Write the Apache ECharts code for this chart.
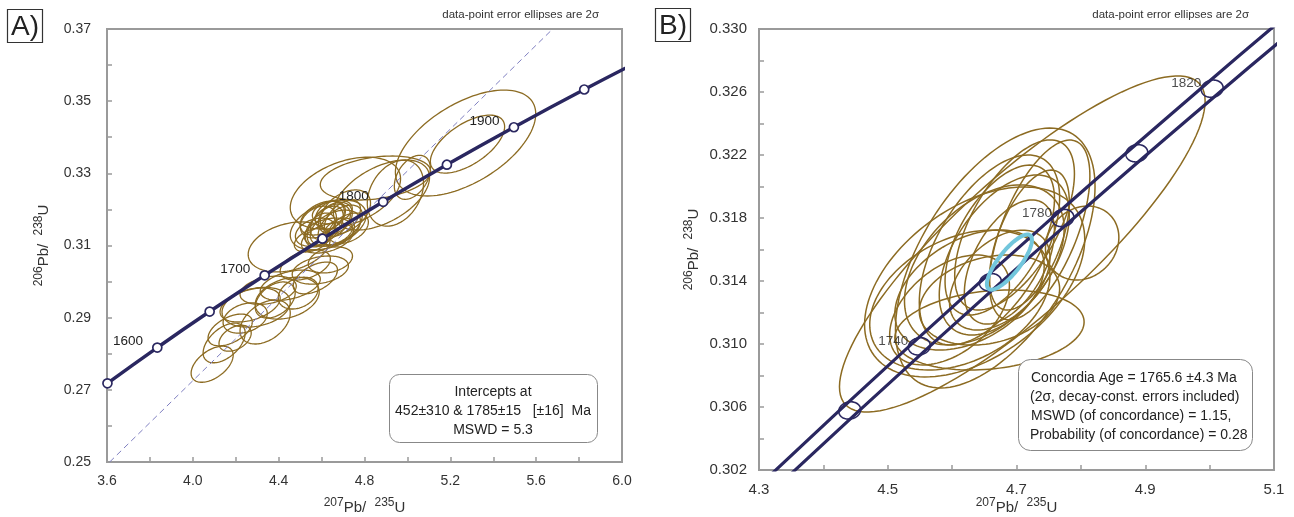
<!DOCTYPE html>
<html><head><meta charset="utf-8">
<script src="https://cdn.jsdelivr.net/npm/echarts@6/dist/echarts.min.js"></script>
<style>html,body{margin:0;padding:0;background:#fff}#c{width:1294px;height:517px}</style>
</head><body><div id="c"></div>
<script>
// ---------- Panel A data ----------
const aConcordiaAges = [1550, 1600, 1650, 1700, 1750, 1800, 1850, 1900, 1950];
const aConcordiaX = [3.6021, 3.8344, 4.0784, 4.3348, 4.6040, 4.8869, 5.1840, 5.4962, 5.8240];
const aConcordiaY = [0.27180, 0.28171, 0.29169, 0.30174, 0.31188, 0.32210, 0.33239, 0.34277, 0.35323];
const aCurveX = [3.3811, 3.6021, 3.8344, 4.0784, 4.3348, 4.6040, 4.8869, 5.1840, 5.4962, 5.8240, 6.1687];
const aCurveY = [0.26198, 0.27180, 0.28171, 0.29169, 0.30174, 0.31188, 0.32210, 0.33239, 0.34277, 0.35323, 0.36375];
const aLabelAges = [1600, 1700, 1800, 1900];
const aDiscordiaX = [3.6125, 5.677];
const aDiscordiaY = [0.25, 0.37];
// ellipses: [x, y, 2s_x, 2s_y, rho]
const aEllipses = [
  [5.271, 0.3384, 0.327, 0.01468, 0.55],
  [5.280, 0.3381, 0.173, 0.00803, 0.60],
  [5.023, 0.3289, 0.084, 0.0061, 0.40],
  [4.851, 0.3287, 0.257, 0.0061, 0.30],
  [4.879, 0.3240, 0.224, 0.0097, 0.50],
  [4.711, 0.3245, 0.257, 0.00997, 0.40],
  [4.944, 0.3245, 0.131, 0.00914, 0.30],
  [4.449, 0.3096, 0.191, 0.00693, 0.30],
  [4.631, 0.3157, 0.177, 0.00693, 0.40],
  [4.641, 0.3165, 0.093, 0.0050, 0.40],
  [4.617, 0.3154, 0.084, 0.0055, 0.50],
  [4.664, 0.3176, 0.079, 0.0044, 0.30],
  [4.594, 0.3143, 0.070, 0.0047, 0.40],
  [4.687, 0.3157, 0.103, 0.0055, 0.50],
  [4.641, 0.3184, 0.070, 0.0039, 0.30],
  [4.571, 0.3137, 0.093, 0.0039, 0.30],
  [4.678, 0.3137, 0.075, 0.0039, 0.40],
  [4.627, 0.3121, 0.121, 0.0042, 0.40],
  [4.711, 0.3193, 0.117, 0.0061, 0.40],
  [4.603, 0.3176, 0.103, 0.0047, 0.40],
  [4.664, 0.3148, 0.117, 0.0050, 0.40],
  [4.585, 0.3165, 0.084, 0.0044, 0.30],
  [4.697, 0.3176, 0.084, 0.0050, 0.50],
  [4.631, 0.3137, 0.112, 0.0039, 0.30],
  [4.650, 0.3193, 0.093, 0.0033, 0.30],
  [4.557, 0.3115, 0.084, 0.0033, 0.40],
  [4.725, 0.3148, 0.093, 0.0042, 0.40],
  [4.641, 0.3060, 0.103, 0.0036, 0.30],
  [4.571, 0.3010, 0.103, 0.0044, 0.50],
  [4.594, 0.3032, 0.131, 0.0039, 0.30],
  [4.524, 0.3046, 0.117, 0.0042, 0.40],
  [4.440, 0.2954, 0.149, 0.0058, 0.30],
  [4.295, 0.2929, 0.159, 0.0055, 0.25],
  [4.337, 0.2888, 0.117, 0.0061, 0.40],
  [4.146, 0.2830, 0.098, 0.0055, 0.50],
  [4.090, 0.2771, 0.098, 0.0050, 0.50],
  [4.454, 0.2990, 0.140, 0.0042, 0.40],
  [4.384, 0.2949, 0.093, 0.0050, 0.40],
  [4.491, 0.2968, 0.093, 0.0044, 0.30],
  [4.244, 0.2899, 0.103, 0.0042, 0.30],
  [4.197, 0.2843, 0.075, 0.0036, 0.40],
  [4.351, 0.2976, 0.131, 0.0039, 0.30],
  [4.267, 0.2935, 0.140, 0.0047, 0.40],
  [4.174, 0.2866, 0.103, 0.0044, 0.50]
];
const aXTicks = [3.6, 6.0, 0.2];
const aYTicks = [0.25, 0.37, 0.01];

// ---------- Panel B data ----------
const bBandUpperX = [4.3196, 4.5331, 4.7551, 4.9860, 5.1044];
const bBandLowerX = [4.3496, 4.5651, 4.7891, 5.0220, 5.1424];
const bBandY = [0.30175, 0.30985, 0.31800, 0.32621, 0.33033];
const bTickAges = [1720, 1740, 1760, 1780, 1800, 1820];
const bTickX = [4.4409, 4.5491, 4.6595, 4.7721, 4.8869, 5.0040];
const bTickY = [0.30578, 0.30985, 0.31392, 0.31800, 0.32211, 0.32621];
const bTickErr = [0.017, 0.00055, 0.1];
const bLabelAges = [1740, 1780, 1820];
const bEllipses = [
  [4.709, 0.31635, 0.284, 0.01067, 0.85],
  [4.667, 0.31546, 0.155, 0.00825, 0.55],
  [4.635, 0.31394, 0.171, 0.00603, 0.45],
  [4.802, 0.31641, 0.057, 0.00235, 0.15],
  [4.658, 0.31597, 0.109, 0.00603, 0.55],
  [4.681, 0.31565, 0.101, 0.00508, 0.50],
  [4.650, 0.31502, 0.124, 0.00508, 0.45],
  [4.674, 0.31660, 0.085, 0.00476, 0.55],
  [4.689, 0.31521, 0.070, 0.00394, 0.50],
  [4.627, 0.31343, 0.116, 0.00381, 0.40],
  [4.697, 0.31756, 0.093, 0.00540, 0.60],
  [4.612, 0.31279, 0.140, 0.00444, 0.35],
  [4.674, 0.31406, 0.078, 0.00317, 0.45],
  [4.720, 0.31660, 0.062, 0.00444, 0.55],
  [4.596, 0.31216, 0.093, 0.00349, 0.45],
  [4.658, 0.31279, 0.109, 0.00286, 0.25],
  [4.736, 0.31724, 0.078, 0.00571, 0.60],
  [4.658, 0.31089, 0.147, 0.00254, 0.20]
];
const bConcordiaAge = [[4.689, 0.3152, 0.035, 0.00175, 0.8]];
const bXTicks = [4.3, 5.1, 0.1];
const bYTicks = [0.302, 0.330, 0.002];

// ---------- styling ----------
const FONT = 'Liberation Sans, Arial, sans-serif';
const AXIS_GRAY = '#9a9a9a';
const NAVY = '#2a2760';
const GOLD = '#8c6b22';
const CYAN = '#72c6dc';

function ellipseRenderer(color, width) {
  return function (params, api) {
    const cx = api.value(0), cy = api.value(1), ax = api.value(2), ay = api.value(3), r = api.value(4);
    const s = Math.sqrt(Math.max(0, 1 - r * r));
    const pts = [];
    const N = 120;
    for (let i = 0; i < N; i++) {
      const t = i / N * 2 * Math.PI;
      pts.push(api.coord([cx + ax * Math.cos(t), cy + ay * (r * Math.cos(t) + s * Math.sin(t))]));
    }
    return { type: 'polygon', shape: { points: pts }, style: { fill: 'none', stroke: color, lineWidth: width }, silent: true };
  };
}

const nameRich = {
  s: { fontSize: 12, verticalAlign: 'top', lineHeight: 18, color: '#333', fontFamily: FONT },
  b: { fontSize: 15, verticalAlign: 'bottom', lineHeight: 18, color: '#333', fontFamily: FONT }
};
const xName = '{s|207}{b|Pb/  }{s|235}{b|U}';
const yName = '{s|206}{b|Pb/  }{s|238}{b|U}';

function valueAxis(gridIndex, ticks, showFn, digits, name, nameGap, margin, fs) {
  return {
    type: 'value', gridIndex, min: ticks[0], max: ticks[1], interval: ticks[2],
    axisLine: { onZero: false, lineStyle: { color: AXIS_GRAY, width: 2 } },
    axisTick: { inside: true, length: 5, lineStyle: { color: AXIS_GRAY, width: 1.5 } },
    splitLine: { show: false },
    axisLabel: {
      color: '#333', fontSize: fs, fontFamily: FONT, margin,
      formatter: v => showFn(v) ? v.toFixed(digits) : ''
    },
    name, nameLocation: 'middle', nameGap, nameMoveOverlap: false,
    nameTextStyle: { rich: nameRich }
  };
}

const zipXY = (xs, ys) => xs.map((x, i) => [x, ys[i]]);
const boxText = (x, y, text, align) => ({ type: 'text', x, y, z: 101,
  style: { text, font: '14px ' + FONT, fill: '#222', align, verticalAlign: 'middle', textAlign: align, textVerticalAlign: 'middle' } });

const chart = echarts.init(document.getElementById('c'), null, { renderer: 'canvas' });
chart.setOption({
  animation: false,
  grid: [
    { left: 107, top: 29, width: 515, height: 433, show: true, borderColor: AXIS_GRAY, borderWidth: 2, containLabel: false, outerBoundsMode: 'none' },
    { left: 759, top: 29, width: 515, height: 441, show: true, borderColor: AXIS_GRAY, borderWidth: 2, containLabel: false, outerBoundsMode: 'none' }
  ],
  xAxis: [
    valueAxis(0, aXTicks, v => Math.round(v * 10) % 4 === 0, 1, xName, 35, 12, 14),
    valueAxis(1, bXTicks, v => Math.round(v * 10) % 2 === 1, 1, xName, 27, 12, 15)
  ],
  yAxis: [
    valueAxis(0, aYTicks, v => Math.round(v * 100) % 2 === 1, 2, yName, 56, 16, 14),
    valueAxis(1, bYTicks, v => Math.round(v * 1000) % 4 === 2, 3, yName, 58, 12, 15)
  ],
  series: [
    // ----- Panel A -----
    { type: 'custom', xAxisIndex: 0, yAxisIndex: 0, clip: true, z: 2,
      renderItem: ellipseRenderer(GOLD, 1.3), encode: { x: 0, y: 1 }, data: aEllipses },
    { type: 'line', xAxisIndex: 0, yAxisIndex: 0, z: 3, clip: true, showSymbol: false,
      lineStyle: { color: '#7f7fc0', width: 1, type: [6, 4] }, data: zipXY(aDiscordiaX, aDiscordiaY) },
    { type: 'line', xAxisIndex: 0, yAxisIndex: 0, z: 4, clip: true, showSymbol: false, smooth: true,
      lineStyle: { color: NAVY, width: 3.5 }, data: zipXY(aCurveX, aCurveY) },
    { type: 'scatter', xAxisIndex: 0, yAxisIndex: 0, z: 5, symbol: 'circle', symbolSize: 9,
      itemStyle: { color: '#ffffff', borderColor: NAVY, borderWidth: 1.7, opacity: 1 },
      label: { show: true, position: 'left', distance: 9, offset: [0, -6], color: '#222', fontSize: 13.5, fontFamily: FONT,
        formatter: p => aLabelAges.includes(p.value[2]) ? String(p.value[2]) : '' },
      data: aConcordiaX.map((x, i) => [x, aConcordiaY[i], aConcordiaAges[i]]) },
    // ----- Panel B -----
    { type: 'custom', xAxisIndex: 1, yAxisIndex: 1, clip: true, z: 2,
      renderItem: ellipseRenderer(GOLD, 1.5), encode: { x: 0, y: 1 }, data: bEllipses },
    { type: 'line', xAxisIndex: 1, yAxisIndex: 1, z: 4, clip: true, showSymbol: false, smooth: true,
      lineStyle: { color: NAVY, width: 3.2 }, data: zipXY(bBandUpperX, bBandY) },
    { type: 'line', xAxisIndex: 1, yAxisIndex: 1, z: 4, clip: true, showSymbol: false, smooth: true,
      lineStyle: { color: NAVY, width: 3.2 }, data: zipXY(bBandLowerX, bBandY) },
    { type: 'custom', xAxisIndex: 1, yAxisIndex: 1, clip: true, z: 5,
      renderItem: ellipseRenderer(NAVY, 1.6), encode: { x: 0, y: 1 },
      data: bTickX.map((x, i) => [x, bTickY[i], bTickErr[0], bTickErr[1], bTickErr[2]]) },
    { type: 'custom', xAxisIndex: 1, yAxisIndex: 1, clip: true, z: 6,
      renderItem: ellipseRenderer(CYAN, 4), encode: { x: 0, y: 1 }, data: bConcordiaAge },
    { type: 'scatter', xAxisIndex: 1, yAxisIndex: 1, z: 7, symbol: 'circle', symbolSize: 2,
      itemStyle: { color: 'rgba(0,0,0,0)' },
      label: { show: true, position: 'left', distance: 10, offset: [0, -5], color: '#222', fontSize: 13.5, fontFamily: FONT,
        formatter: p => bLabelAges.includes(p.value[2]) ? String(p.value[2]) : '' },
      data: bTickX.map((x, i) => [x, bTickY[i], bTickAges[i]]) }
  ],
  graphic: [
    { type: 'rect', shape: { x: 7.5, y: 9.5, width: 35, height: 33 }, style: { fill: 'none', stroke: '#333', lineWidth: 1.2 } },
    { type: 'text', x: 25, y: 27, style: { text: 'A)', font: '28px ' + FONT, fill: '#222', align: 'center', verticalAlign: 'middle', textAlign: 'center', textVerticalAlign: 'middle' } },
    { type: 'rect', shape: { x: 655.5, y: 8.5, width: 35, height: 33 }, style: { fill: 'none', stroke: '#333', lineWidth: 1.2 } },
    { type: 'text', x: 673, y: 26, style: { text: 'B)', font: '28px ' + FONT, fill: '#222', align: 'center', verticalAlign: 'middle', textAlign: 'center', textVerticalAlign: 'middle' } },
    { type: 'text', x: 599, y: 15, style: { text: 'data-point error ellipses are 2σ', font: '11.5px ' + FONT, fill: '#333', align: 'right', verticalAlign: 'middle', textAlign: 'right', textVerticalAlign: 'middle' } },
    { type: 'text', x: 1249, y: 15, style: { text: 'data-point error ellipses are 2σ', font: '11.5px ' + FONT, fill: '#333', align: 'right', verticalAlign: 'middle', textAlign: 'right', textVerticalAlign: 'middle' } },
    { type: 'rect', z: 100, shape: { x: 389.5, y: 374.5, width: 208, height: 68, r: 10 }, style: { fill: '#fff', stroke: '#888', lineWidth: 1 } },
    boxText(493, 392, 'Intercepts at', 'center'),
    boxText(493, 411, '452±310 & 1785±15   [±16]  Ma', 'center'),
    boxText(493, 430, 'MSWD = 5.3', 'center'),
    { type: 'rect', z: 100, shape: { x: 1018.5, y: 359.5, width: 234, height: 91, r: 12 }, style: { fill: '#fff', stroke: '#888', lineWidth: 1 } },
    boxText(1031, 378, 'Concordia Age = 1765.6 ±4.3 Ma', 'left'),
    boxText(1030, 397, '(2σ, decay-const. errors included)', 'left'),
    boxText(1031, 416, 'MSWD (of concordance) = 1.15,', 'left'),
    boxText(1030, 435, 'Probability (of concordance) = 0.28', 'left')
  ]
});
</script>
</body></html>
